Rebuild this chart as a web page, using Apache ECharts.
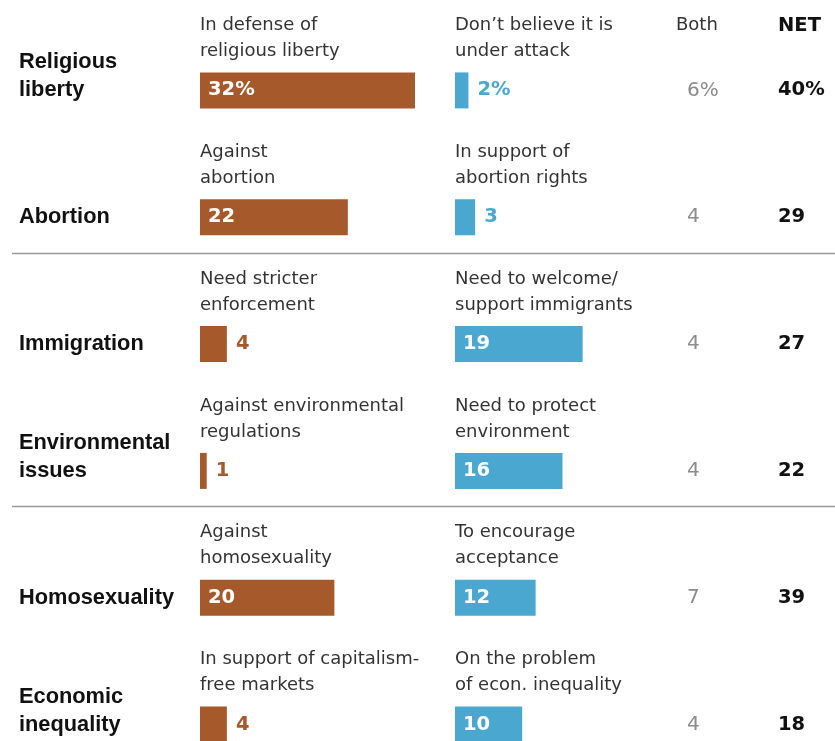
<!DOCTYPE html>
<html><head><meta charset="utf-8">
<script src="https://cdn.jsdelivr.net/npm/echarts/dist/echarts.min.js"></script>
<style>html,body{margin:0;padding:0;background:#fff}#c{width:835px;height:741px}</style>
</head><body><div id="c"></div>
<script>
// ---- data ----
const topics = ['Religious\nliberty','Abortion','Immigration','Environmental\nissues','Homosexuality','Economic\ninequality'];
const leftLabels = ['In defense of\nreligious liberty','Against\nabortion','Need stricter\nenforcement','Against environmental\nregulations','Against\nhomosexuality','In support of capitalism-\nfree markets'];
const rightLabels = ['Don\u2019t believe it is\nunder attack','In support of\nabortion rights','Need to welcome/\nsupport immigrants','Need to protect\nenvironment','To encourage\nacceptance','On the problem\nof econ. inequality'];
const leftValues = [32,22,4,1,20,4];
const rightValues = [2,3,19,16,12,10];
const bothValues = [6,4,4,4,7,4];
const netValues = [40,29,27,22,39,18];
const headers = ['Both','NET'];
const separatorAfter = [1,3];

// ---- style ----
const BROWN = '#a65a2b', BLUE = '#4aa8d0';
const SANS = '"Liberation Sans", Arial, sans-serif';
const WIDE = '"DejaVu Sans", sans-serif';
const TOP = 27, HEIGHT = 761;
const fmtPct = (v, i) => i === 0 ? v + '%' : String(v);
const padBelow = (s, n) => s + '\n '.repeat(n);   // blank lines lift the text above the tick

function gridDef(left, width){ return {left, width, top: TOP, height: HEIGHT, containLabel:false, outerBoundsMode:'none'}; }
function hiddenX(gi, max){ return {type:'value', gridIndex:gi, min:0, max, show:false}; }
function catY(gi, label){
  return {type:'category', gridIndex:gi, position:'left', inverse:true, data:topics,
    axisLine:{show:false}, axisTick:{show:false}, splitLine:{show:false},
    axisLabel:Object.assign({interval:0, align:'left', margin:0, hideOverlap:false}, label)};
}
function barData(vals, color){
  return vals.map(v => v < 5
    ? {value:v, label:{position:'right', distance:9, color}}
    : {value:v});
}
function barSeries(xi, yi, vals, color){
  return {type:'bar', xAxisIndex:xi, yAxisIndex:yi, data:barData(vals, color), barWidth:36,
    itemStyle:{color}, silent:true, animation:false,
    label:{show:true, position:'insideLeft', distance:8, color:'#fff', fontFamily:WIDE, fontWeight:'bold', fontSize:19.5,
      formatter:p => fmtPct(p.value, p.dataIndex)}};
}

const chart = echarts.init(document.getElementById('c'), null, {renderer:'canvas'});

chart.setOption({
  animation:false,
  title: headers.map((h, i) => ({text:h, left: i === 0 ? 671 : 773, top:11,
    textStyle:{fontFamily:WIDE, fontSize: i === 0 ? 18 : 19.5, fontWeight: i === 0 ? 'normal' : 'bold', color: i === 0 ? '#333' : '#111'}})),
  grid:[gridDef(200,215), gridDef(455,215), gridDef(687,40), gridDef(778,40)],
  xAxis:[hiddenX(0,32), hiddenX(1,32), hiddenX(2,1), hiddenX(3,1)],
  yAxis:[
    catY(0, {margin:181, fontFamily:SANS, fontWeight:'bold', fontSize:21.8, color:'#111', lineHeight:28,
      formatter:v => v.indexOf('\n') >= 0 ? padBelow(v, 1) : v}),
    catY(0, {formatter:(v,i) => padBelow(leftLabels[i], 4), fontFamily:WIDE, fontSize:18, color:'#333', lineHeight:26}),
    catY(1, {formatter:(v,i) => padBelow(rightLabels[i], 4), fontFamily:WIDE, fontSize:18, color:'#333', lineHeight:26}),
    catY(2, {formatter:(v,i) => fmtPct(bothValues[i], i), fontFamily:WIDE, fontSize:20, color:'#8c8c8c'}),
    catY(3, {formatter:(v,i) => fmtPct(netValues[i], i), fontFamily:WIDE, fontWeight:'bold', fontSize:19.5, color:'#111'})
  ],
  series:[ barSeries(0,0,leftValues,BROWN), barSeries(1,2,rightValues,BLUE) ]
});

// separators placed relative to the category axis
const y0 = chart.convertToPixel({yAxisIndex:0}, 0), y1 = chart.convertToPixel({yAxisIndex:0}, 1);
const band = y1 - y0;
chart.setOption({graphic: separatorAfter.map(i => {
  const y = Math.round(chart.convertToPixel({yAxisIndex:0}, i) + band * 0.28) + 0.5;
  return {type:'line', silent:true, shape:{x1:12, y1:y, x2:835, y2:y}, style:{stroke:'#9a9a9a', lineWidth:1.5}};
})});
</script></body></html>
